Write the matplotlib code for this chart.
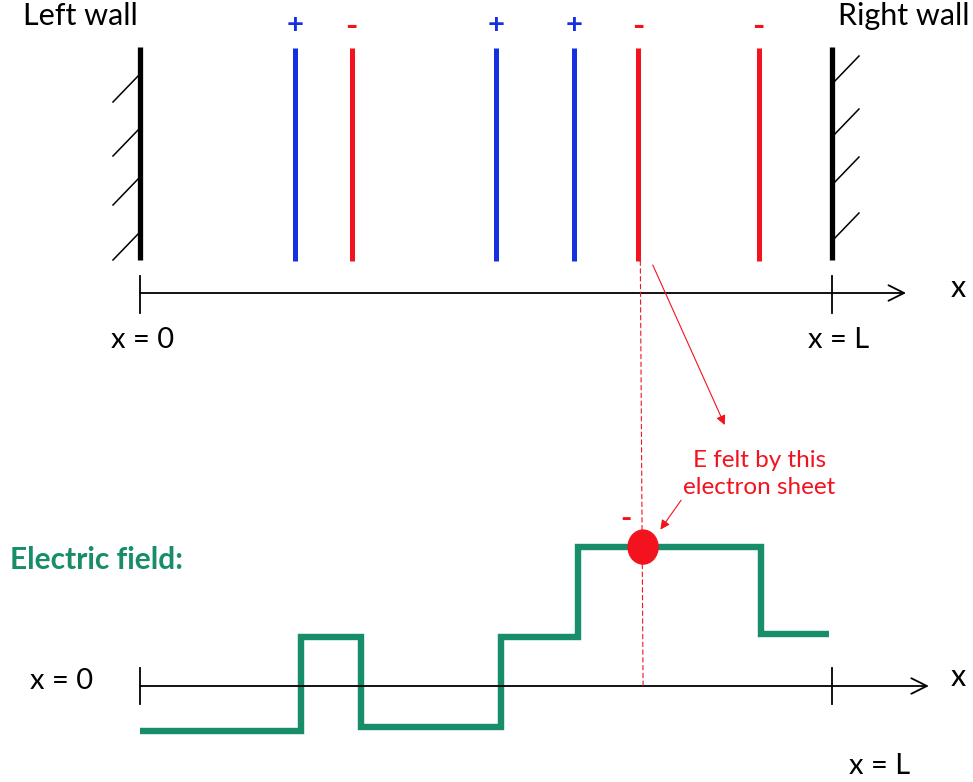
import numpy as np
import matplotlib
matplotlib.use("Agg")
import matplotlib.pyplot as plt
from matplotlib.patches import ConnectionPatch, Ellipse

plt.rcParams['font.family'] = ['Lato', 'DejaVu Sans']

# sheet positions along x, in units of L (x = 0 .. L = 1)
sheet_x = [0.224, 0.306, 0.514, 0.627, 0.720, 0.894]
sheet_sign = ['+', '-', '+', '+', '-', '-']
wall_x = [0.0, 1.0]

# electric field, step profile
field_x = [0.0, 0.233, 0.319, 0.522, 0.633, 0.897, 0.995]
field_E = [-0.49, 0.53, -0.45, 0.53, 1.51, 0.57]

# the electron sheet that feels the field
probe_x = 0.727
probe_E = 1.51

BLUE = '#1530e0'
RED = '#f2131f'
GREEN = '#178d6a'

W, H = 973, 782
fig = plt.figure(figsize=(W / 100, H / 100), dpi=100)
xlim = (-140 / 692, 833 / 692)

# top panel: sheets between the walls, y in pixel rows
top_h = 400
ax1 = fig.add_axes([0, 1 - top_h / H, 1, top_h / H])
ax1.set_xlim(*xlim)
ax1.set_ylim(top_h, 0)
ax1.axis('off')

sheet_top, sheet_bot = 48, 261
hx, hy = 27 / 692, 28

for xs, s in zip(sheet_x, sheet_sign):
    c = BLUE if s == '+' else RED
    ax1.plot([xs, xs], [sheet_top, sheet_bot], color=c, lw=3.6, solid_capstyle='butt')
    if s == '+':
        ax1.text(xs, 25, '+', color=c, ha='center', va='center',
                 fontsize=21, fontweight='bold')
    else:
        ax1.text(xs, 26, '-', color=c, ha='center', va='center',
                 fontsize=24, fontweight='bold')

for xw in wall_x:
    ax1.plot([xw, xw], [47, 260], color='black', lw=3.8, solid_capstyle='butt')

for yh in [74, 128, 177, 232]:
    ax1.plot([-hx, 0], [yh + hy, yh], color='black', lw=1.1)
for yh in [84, 137, 185, 241]:
    ax1.plot([1, 1 + hx], [yh, yh - hy], color='black', lw=1.1)

ax1.annotate('', xy=(1.107, 293), xytext=(0, 293),
             arrowprops=dict(arrowstyle='->', lw=1.3, color='black', mutation_scale=28,
                             shrinkA=0, shrinkB=0))
for xt in wall_x:
    ax1.plot([xt, xt], [276, 313], color='black', lw=1.3)

ax1.text(-0.169, 16, 'Left wall', fontsize=22, ha='left', va='center')
ax1.text(1.199, 16, 'Right wall', fontsize=22, ha='right', va='center')
ax1.text(0.004, 340, 'x = 0', fontsize=21, ha='center', va='center')
ax1.text(1.009, 340, 'x = L', fontsize=21, ha='center', va='center')
ax1.text(1.182, 288, 'x', fontsize=22, ha='center', va='center')

# bottom panel: electric field, y in field units
bot_h = H - top_h
ax2 = fig.add_axes([0, 0, 1, bot_h / H])
ax2.set_xlim(*xlim)
ax2.set_ylim(-(H - 686) / 92, (686 - top_h) / 92)
ax2.axis('off')

ax2.annotate('', xy=(1.140, 0), xytext=(0, 0),
             arrowprops=dict(arrowstyle='->', lw=1.3, color='black', mutation_scale=28,
                             shrinkA=0, shrinkB=0))
for xt in wall_x:
    ax2.plot([xt, xt], [-0.2, 0.2], color='black', lw=1.3)

ax2.stairs(field_E, field_x, color=GREEN, lw=4.6, baseline=None)

ax2.add_patch(Ellipse((probe_x, probe_E), 30 / 692, 34 / 92, color=RED, zorder=5))
ax2.text(probe_x - 0.025, probe_E + 0.31, '-', color=RED, fontsize=22,
         fontweight='bold', ha='center', va='center')

ax2.text(-0.188, 1.37, 'Electric field:', color=GREEN, fontsize=21.5,
         fontweight='bold', ha='left', va='center')
ax2.text(-0.113, 0.05, 'x = 0', fontsize=21, ha='center', va='center')
ax2.text(1.069, -0.87, 'x = L', fontsize=21, ha='center', va='center')
ax2.text(1.182, 0.10, 'x', fontsize=22, ha='center', va='center')

ax2.text(0.895, 2.30, 'E felt by this\nelectron sheet', color=RED, fontsize=17.5,
         ha='center', va='center', linespacing=1.35)
ax2.annotate('', xy=(0.752, 1.70), xytext=(0.782, 2.02),
             arrowprops=dict(arrowstyle='-|>', lw=0.8, color=RED, mutation_scale=14,
                             shrinkA=0, shrinkB=0))

# dashed guide from the electron sheet down to the field axis
guide = ConnectionPatch(xyA=(probe_x - 0.004, sheet_bot), coordsA=ax1.transData,
                        xyB=(probe_x, 0), coordsB=ax2.transData,
                        color=RED, lw=0.8, ls=(0, (4, 3)))
fig.add_artist(guide)

# pointer from the sheet to the label
pointer = ConnectionPatch(xyA=(0.741, 265), coordsA=ax1.transData,
                          xyB=(0.845, (686 - 425) / 92), coordsB=ax2.transData,
                          color=RED, lw=0.8, arrowstyle='-|>', mutation_scale=14)
fig.add_artist(pointer)

fig.savefig('out.png', dpi=100)
